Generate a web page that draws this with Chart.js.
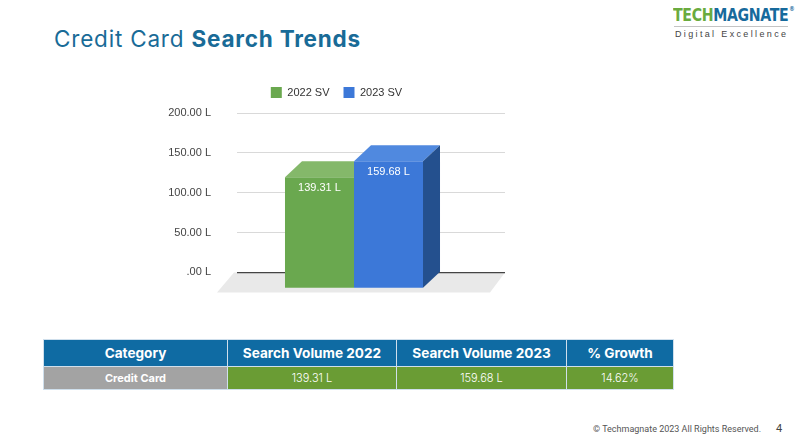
<!DOCTYPE html>
<html>
<head>
<meta charset="utf-8">
<script src="https://cdn.jsdelivr.net/npm/chart.js@4.4.0/dist/chart.umd.min.js"></script>
<style>
  html, body { margin: 0; padding: 0; }
  body { width: 800px; height: 445px; background: #fff; position: relative; overflow: hidden; font-family: Inter, "Noto Sans", sans-serif; }
  .title { position: absolute; left: 54px; top: 26px; font-size: 22.5px; line-height: 26px; letter-spacing: 0.8px; color: #196b97; white-space: nowrap; }
  .title b { font-weight: 700; }
  .logo { position: absolute; left: 673px; top: -1px; width: 118px; }
  .logo .name { display: inline-block; transform: scaleX(0.85); transform-origin: left top; font-family: "DejaVu Sans Condensed", "DejaVu Sans", sans-serif; font-stretch: condensed; font-weight: 700; font-size: 18.5px; line-height: 20px; letter-spacing: -0.4px; white-space: nowrap; }
  .logo .tech { color: #6aab3e; }
  .logo .mag { color: #176a9c; }
  .logo sup { font-size: 7px; color: #176a9c; vertical-align: 10px; margin-left: 1px; }
  .logo .rule { height: 1px; background: #c4c4c4; margin: 1px 0 2px 1px; width: 114px; }
  .logo .tag { font-family: "Liberation Sans", Arial, sans-serif; font-size: 9px; line-height: 10px; letter-spacing: 2.35px; color: #444; white-space: nowrap; padding-left: 2px; }
  #chartBox { position: absolute; left: 168px; top: 70px; width: 337px; height: 235px; }
  table { position: absolute; left: 43px; top: 339px; width: 630px; border-collapse: collapse; table-layout: fixed; }
  th, td { border: 1px solid #cfdfec; text-align: center; color: #fff; padding: 0; white-space: nowrap; }
  th { background: #0f6ba3; height: 26px; font-size: 13.6px; font-weight: 700; }
  td { background: #6a9c34; height: 22px; font-size: 11px; font-weight: 300; }
  td.cat { background: #a3a3a3; font-weight: 700; }
  .footer { position: absolute; left: 593px; top: 424px; font-family: Roboto, sans-serif; font-size: 9px; color: #555; white-space: nowrap; }
  .page { position: absolute; left: 776px; top: 422px; font-family: Roboto, sans-serif; font-size: 11px; color: #444; }
</style>
</head>
<body>
<div class="title">Credit Card <b>Search Trends</b></div>
<div class="logo">
  <div class="name"><span class="tech">TECH</span><span class="mag">MAGNATE</span><sup>&reg;</sup></div>
  <div class="rule"></div>
  <div class="tag">Digital Excellence</div>
</div>
<div id="chartBox"><canvas id="trendChart"></canvas></div>
<table id="svTable">
  <colgroup><col style="width:184px"><col style="width:169px"><col style="width:170px"><col style="width:107px"></colgroup>
  <thead><tr><th>Category</th><th>Search Volume 2022</th><th>Search Volume 2023</th><th>% Growth</th></tr></thead>
  <tbody></tbody>
</table>
<div class="footer">&copy; Techmagnate 2023 All Rights Reserved.</div>
<div class="page">4</div>

<script>
const categories = ['Credit Card'];
const seriesNames = ['2022 SV', '2023 SV'];
const sv2022 = [139.31];
const sv2023 = [159.68];
const growth = ['14.62%'];
const tickLabels = ['.00 L', '50.00 L', '100.00 L', '150.00 L', '200.00 L'];

// front faces are pushed down-left, the scale gives the back plane
const DEPTH_X = 17;
const DEPTH_Y = 16;

const fmt = v => v.toFixed(2) + ' L';

const tbody = document.querySelector('#svTable tbody');
categories.forEach((cat, i) => {
    const tr = document.createElement('tr');
    tr.innerHTML = '<td class="cat">' + cat + '</td><td>' + fmt(sv2022[i]) + '</td><td>' +
        fmt(sv2023[i]) + '</td><td>' + growth[i] + '</td>';
    tbody.appendChild(tr);
});

const faceColors = [
    { top: '#84b86a', side: '#4d7f37' },
    { top: '#5089df', side: '#24508e' }
];

const bars3d = {
    id: 'bars3d',
    beforeDraw(chart) {
        const { ctx, chartArea: a, scales: { y } } = chart;
        const base = y.getPixelForValue(0);
        ctx.save();
        ctx.fillStyle = '#e9e9e9';
        ctx.beginPath();
        ctx.moveTo(a.left - 3, base);
        ctx.lineTo(a.right, base);
        ctx.lineTo(a.right - 15, base + 20);
        ctx.lineTo(a.left - 20, base + 20);
        ctx.closePath();
        ctx.fill();
        ctx.restore();
    },
    beforeDatasetsDraw(chart) {
        chart.ctx.save();
        chart.ctx.translate(-DEPTH_X, DEPTH_Y);
    },
    afterDatasetsDraw(chart) {
        const ctx = chart.ctx;
        const n = chart.data.datasets.length;
        const metas = chart.data.datasets.map((ds, i) => chart.getDatasetMeta(i));
        metas.forEach((meta, i) => {
            meta.data.forEach((bar, j) => {
                const { x, y, base, width } = bar.getProps(['x', 'y', 'base', 'width'], true);
                const l = x - width / 2, r = x + width / 2;
                ctx.save();
                if (i < n - 1) {
                    // the next bar's front hides what is behind it
                    const nb = metas[i + 1].data[j].getProps(['x', 'width'], true);
                    ctx.beginPath();
                    ctx.rect(-1000, -1000, nb.x - nb.width / 2 + 1000, 3000);
                    ctx.clip();
                }
                ctx.fillStyle = faceColors[i].top;
                ctx.beginPath();
                ctx.moveTo(l, y);
                ctx.lineTo(r, y);
                ctx.lineTo(r + DEPTH_X, y - DEPTH_Y);
                ctx.lineTo(l + DEPTH_X, y - DEPTH_Y);
                ctx.closePath();
                ctx.fill();
                ctx.fillStyle = faceColors[i].side;
                ctx.beginPath();
                ctx.moveTo(r, y);
                ctx.lineTo(r + DEPTH_X, y - DEPTH_Y);
                ctx.lineTo(r + DEPTH_X, base - DEPTH_Y);
                ctx.lineTo(r, base);
                ctx.closePath();
                ctx.fill();
                ctx.restore();
            });
        });
        ctx.font = '11px "Liberation Sans", Arial, sans-serif';
        ctx.fillStyle = '#fff';
        ctx.textAlign = 'center';
        ctx.textBaseline = 'middle';
        chart.data.datasets.forEach((ds, i) => {
            metas[i].data.forEach((bar, j) => {
                const { x, y } = bar.getProps(['x', 'y'], true);
                ctx.fillText(fmt(ds.data[j]), x, y + 11);
            });
        });
        ctx.restore();
    }
};

new Chart(document.getElementById('trendChart'), {
    type: 'bar',
    data: {
        labels: categories,
        datasets: [
            { label: seriesNames[0], data: sv2022, backgroundColor: '#6aa84f', clip: false },
            { label: seriesNames[1], data: sv2023, backgroundColor: '#3c78d8', clip: false }
        ]
    },
    options: {
        responsive: true,
        maintainAspectRatio: false,
        animation: false,
        layout: { padding: { top: 3, right: 0, bottom: 22, left: 0 } },
        datasets: { bar: { barPercentage: 1, categoryPercentage: 0.515, borderWidth: 0 } },
        scales: {
            x: {
                position: 'top',
                ticks: { display: false },
                grid: { display: false },
                border: { display: false },
                afterFit(s) { s.height = 5; }
            },
            y: {
                min: 0,
                max: 200,
                ticks: {
                    stepSize: 50,
                    padding: 26,
                    color: '#444',
                    font: { family: '"Liberation Sans", Arial, sans-serif', size: 11 },
                    callback: (v, idx) => tickLabels[idx]
                },
                grid: {
                    drawTicks: false,
                    color: c => c.tick && c.tick.value === 0 ? '#444' : '#d9d9d9',
                    lineWidth: c => c.tick && c.tick.value === 0 ? 1.3 : 1
                },
                border: { display: false },
                afterFit(s) { s.width = 69; }
            }
        },
        plugins: {
            legend: {
                position: 'top',
                labels: {
                    boxWidth: 11,
                    boxHeight: 11,
                    padding: 14,
                    color: '#333',
                    font: { family: '"Liberation Sans", Arial, sans-serif', size: 11 }
                }
            },
            tooltip: { enabled: false }
        }
    },
    plugins: [bars3d]
});
</script>
</body>
</html>
